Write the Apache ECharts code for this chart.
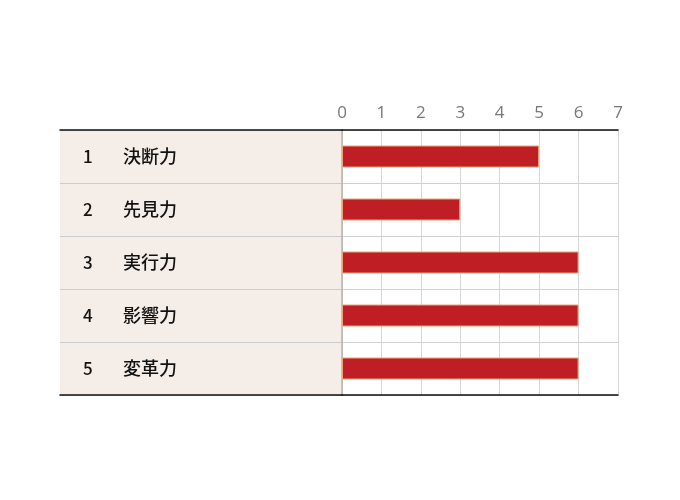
<!DOCTYPE html>
<html><head><meta charset="utf-8">
<script src="https://cdn.jsdelivr.net/npm/echarts@6/dist/echarts.min.js"></script>
<style>html,body{margin:0;padding:0;background:#fff}#c{width:680px;height:500px}</style>
</head><body><div id="c"></div>
<script>
const ranks = ['1','2','3','4','5'];
const names = ['決断力','先見力','実行力','影響力','変革力'];
const values = [5,3,6,6,6];
const ticks = [0,1,2,3,4,5,6,7];

const chart = echarts.init(document.getElementById('c'));
const font = '"Noto Sans CJK JP","Noto Sans",sans-serif';
const cats = ranks.map((r,i)=>r+'|'+names[i]);
chart.setOption({
  animation:false,
  grid:[
    {left:342,right:62,top:130,bottom:105,show:false},
    {left:60,right:338,top:130,bottom:105,show:true,backgroundColor:'#f5ede8',borderWidth:0}
  ],
  xAxis:[
    {gridIndex:0,type:'value',position:'top',min:ticks[0],max:ticks[ticks.length-1],interval:1,
     axisLine:{show:true,lineStyle:{color:'#111',width:1.5}},axisTick:{show:false},
     axisLabel:{color:'#777',fontSize:17,margin:8,fontFamily:'"Open Sans",sans-serif'},
     splitLine:{show:true,lineStyle:{color:'#d6d6d6',width:1}}},
    {gridIndex:1,type:'value',position:'top',min:0,max:1,
     axisLine:{show:true,onZero:false,lineStyle:{color:'#111',width:1.5}},axisTick:{show:false},axisLabel:{show:false},splitLine:{show:false}},
    {gridIndex:1,type:'value',position:'bottom',min:0,max:1,
     axisLine:{show:true,onZero:false,lineStyle:{color:'#111',width:1.5}},axisTick:{show:false},axisLabel:{show:false},splitLine:{show:false}},
    {gridIndex:0,type:'value',position:'bottom',min:0,max:7,
     axisLine:{show:true,onZero:false,lineStyle:{color:'#111',width:1.5}},axisTick:{show:false},axisLabel:{show:false},splitLine:{show:false}}
  ],
  yAxis:[
    {gridIndex:0,type:'category',inverse:true,data:cats,
     axisLine:{show:true,lineStyle:{color:'#bdb1a8',width:1.5}},axisTick:{show:false},axisLabel:{show:false},
     splitLine:{show:true,lineStyle:{color:'#cfcfcf',width:1}}},
    {gridIndex:1,type:'category',inverse:true,data:cats,
     axisLine:{show:false},axisTick:{show:false},
     splitLine:{show:true,lineStyle:{color:'#c9ccd0',width:1}},
     axisLabel:{inside:true,margin:23,align:'left',
       formatter:function(v){const p=v.split('|');return '{r|'+p[0]+'}{n|'+p[1]+'}';},
       rich:{r:{width:40,fontSize:17,fontWeight:500,color:'#111',fontFamily:font,align:'left'},
             n:{fontSize:18,fontWeight:500,color:'#111',fontFamily:font}}}}
  ],
  series:[{
    type:'bar',xAxisIndex:0,yAxisIndex:0,data:values,barWidth:22,
    itemStyle:{color:'#be1e24',borderColor:'#e9a57a',borderWidth:1}
  }]
});
</script></body></html>
